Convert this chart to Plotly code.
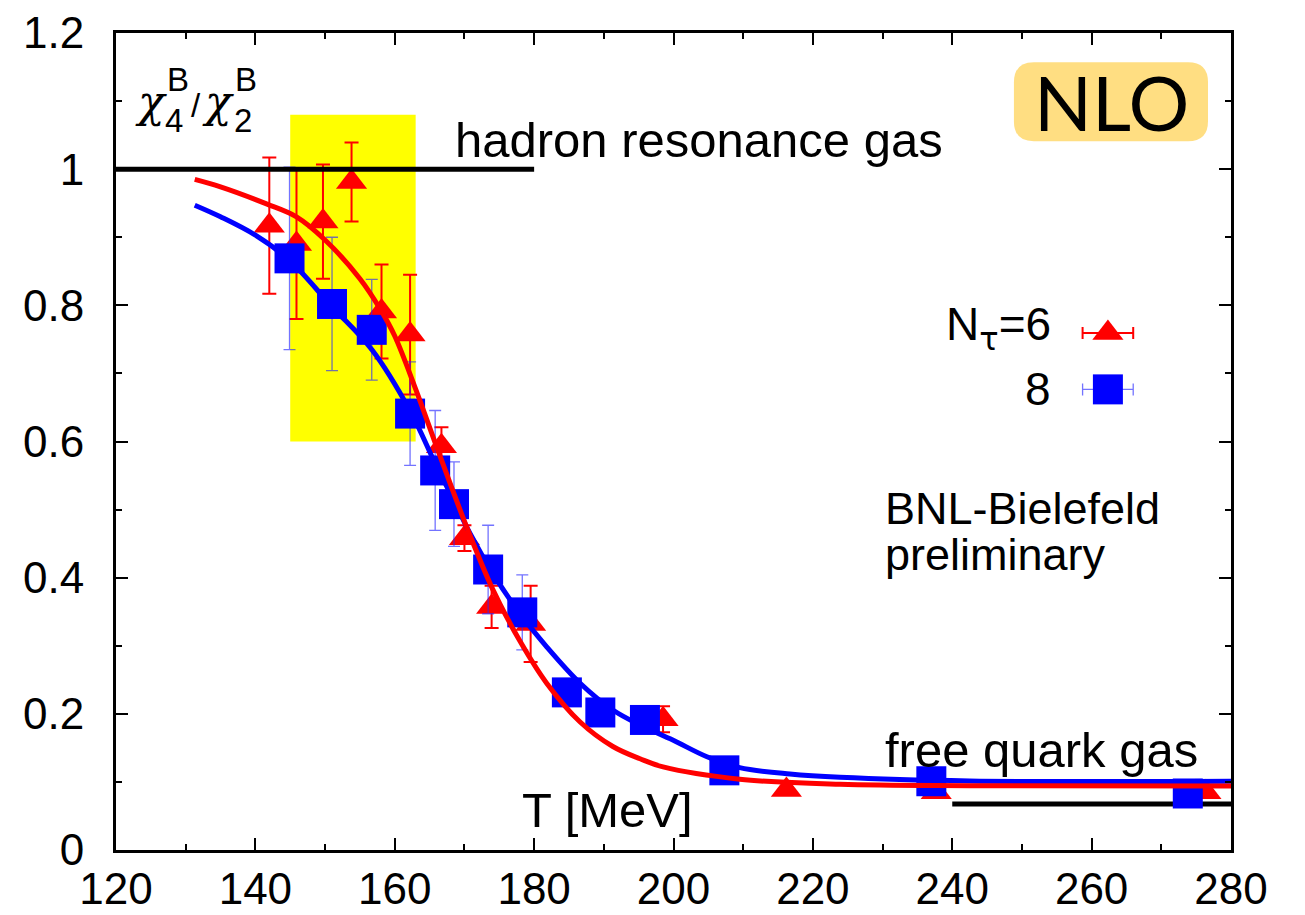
import plotly.graph_objects as go

# ---- lattice data: chi4^B / chi2^B versus temperature ----
# N_tau = 6 (red triangles)
T_NT6 = [142.0, 145.9, 149.7, 153.8, 158.1, 162.2, 166.7, 170.0, 173.9, 179.5, 198.5, 216.2, 237.7, 276.4]
R_NT6 = [0.917, 0.890, 0.923, 0.981, 0.791, 0.757, 0.593, 0.458, 0.357, 0.332, 0.192, 0.088, 0.085, 0.085]
E_NT6 = [0.100, 0.110, 0.084, 0.058, 0.069, 0.088, 0.028, 0.019, 0.031, 0.056, 0.019, 0.004, 0.004, 0.004]

# N_tau = 8 (blue squares)
T_NT8 = [144.9, 151.0, 156.7, 162.2, 165.8, 168.5, 173.4, 178.3, 184.7, 189.5, 195.9, 207.3, 237.0, 273.8]
R_NT8 = [0.869, 0.802, 0.764, 0.641, 0.5575, 0.508, 0.412, 0.349, 0.2315, 0.202, 0.191, 0.117, 0.101, 0.083]
E_NT8 = [0.134, 0.098, 0.074, 0.076, 0.088, 0.062, 0.065, 0.055, 0.0, 0.0, 0.0, 0.0, 0.0, 0.0]

# fitted curves
FIT6_T = [131.3, 135.0, 141.6, 145.9, 150.0, 155.0, 158.0, 160.0, 163.0, 166.2, 170.3, 174.1,
          177.9, 181.8, 186.6, 191.3, 195.2, 198.5, 209.5, 223.9, 242.5, 280.0]
FIT6_R = [0.985, 0.974, 0.949, 0.930, 0.896, 0.839, 0.793, 0.755, 0.677, 0.587, 0.475, 0.382,
          0.308, 0.245, 0.188, 0.152, 0.134, 0.122, 0.104, 0.0965, 0.0945, 0.094]

FIT8_T = [131.3, 135.0, 140.0, 144.9, 151.0, 156.7, 162.2, 165.8, 168.5, 170.8, 174.1, 177.9,
          181.8, 186.6, 191.3, 195.2, 199.9, 204.8, 209.5, 216.7, 223.9, 242.5, 280.0]
FIT8_R = [0.947, 0.930, 0.903, 0.866, 0.798, 0.735, 0.645, 0.568, 0.513, 0.465, 0.406, 0.348,
          0.2985, 0.245, 0.2056, 0.1836, 0.1615, 0.137, 0.121, 0.1116, 0.1067, 0.1013, 0.101]

# reference limits
HRG_VALUE = 1.0
HRG_T = [120, 180]
FQG_VALUE = 0.0675
FQG_T = [240, 280]

# transition band
BAND_T = [145, 163]
BAND_R = [0.6, 1.08]

X_TICKS = [120, 140, 160, 180, 200, 220, 240, 260, 280]
Y_TICKS = [0, 0.2, 0.4, 0.6, 0.8, 1.0, 1.2]

RED = "#ff0000"
BLUE = "#0000ff"
BLUE_ERR = "rgba(40,40,255,0.65)"
FONT = "Liberation Sans"
GREEK = "DejaVu Serif"

fig = go.Figure()

# N_tau = 6 points
fig.add_trace(go.Scatter(
    x=T_NT6, y=R_NT6, mode="markers",
    marker=dict(symbol="triangle-up", size=27, color=RED, line=dict(width=0)),
    error_y=dict(type="data", array=E_NT6, color=RED, thickness=2, width=7),
    showlegend=False,
))
# N_tau = 8 points
fig.add_trace(go.Scatter(
    x=T_NT8, y=R_NT8, mode="markers",
    marker=dict(symbol="square", size=30, color=BLUE, line=dict(width=0)),
    error_y=dict(type="data", array=E_NT8, color=BLUE_ERR, thickness=1.3, width=6),
    showlegend=False,
))
# fit curves
fig.add_trace(go.Scatter(
    x=FIT8_T, y=FIT8_R, mode="lines",
    line=dict(color=BLUE, width=5, shape="spline", smoothing=1.0),
    showlegend=False,
))
fig.add_trace(go.Scatter(
    x=FIT6_T, y=FIT6_R, mode="lines",
    line=dict(color=RED, width=5, shape="spline", smoothing=1.0),
    showlegend=False,
))

# legend keys on an overlay axis spanning the plot area (0..1)
KEY_X = 0.8896
KEY_HALF = 0.0227
KEY_Y6 = 0.6327
KEY_Y8 = 0.5638
fig.add_trace(go.Scatter(
    x=[KEY_X], y=[KEY_Y6], xaxis="x2", yaxis="y2", mode="markers",
    marker=dict(symbol="triangle-up", size=27, color=RED, line=dict(width=0)),
    error_x=dict(type="constant", value=KEY_HALF, color=RED, thickness=2, width=6),
    showlegend=False, hoverinfo="skip",
))
fig.add_trace(go.Scatter(
    x=[KEY_X], y=[KEY_Y8], xaxis="x2", yaxis="y2", mode="markers",
    marker=dict(symbol="square", size=30, color=BLUE, line=dict(width=0)),
    error_x=dict(type="constant", value=KEY_HALF, color=BLUE_ERR, thickness=1.3, width=6),
    showlegend=False, hoverinfo="skip",
))

# rounded box behind "NLO"
bx0, bx1, by0, by1 = 248.85, 276.7, 1.041, 1.157
rx, ry = 2.87, 0.0294
nlo_path = (
    f"M {bx0 + rx},{by0} L {bx1 - rx},{by0} Q {bx1},{by0} {bx1},{by0 + ry} "
    f"L {bx1},{by1 - ry} Q {bx1},{by1} {bx1 - rx},{by1} "
    f"L {bx0 + rx},{by1} Q {bx0},{by1} {bx0},{by1 - ry} "
    f"L {bx0},{by0 + ry} Q {bx0},{by0} {bx0 + rx},{by0} Z"
)

shapes = [
    dict(type="rect", xref="x", yref="y", x0=BAND_T[0], x1=BAND_T[1], y0=BAND_R[0], y1=BAND_R[1],
         fillcolor="#ffff00", line=dict(width=0), layer="below"),
    dict(type="line", xref="x", yref="y", x0=FQG_T[0], x1=FQG_T[1], y0=FQG_VALUE, y1=FQG_VALUE,
         line=dict(color="black", width=5), layer="below"),
    dict(type="line", xref="x", yref="y", x0=HRG_T[0], x1=HRG_T[1], y0=HRG_VALUE, y1=HRG_VALUE,
         line=dict(color="black", width=5), layer="above"),
    dict(type="path", xref="x", yref="y", path=nlo_path, fillcolor="#ffde82",
         line=dict(width=0), layer="below"),
]

TXT = 49
SUB = 33


def label(text, x, y, size=TXT, xanchor="left", family=FONT):
    return dict(text=text, x=x, y=y, xref="x", yref="y", xanchor=xanchor, yanchor="middle",
                showarrow=False, font=dict(family=family, size=size, color="black"))


annotations = [
    label("hadron resonance gas", 168.3, 1.043),
    label("free quark gas", 230.0, 0.147),
    label("T [MeV]", 190.5, 0.059, xanchor="center"),
    label("BNL-Bielefeld", 230.1, 0.501, size=45),
    label("preliminary", 230.1, 0.434, size=45),
    label("N<sub><span style=\"font-family:'DejaVu Sans'\">τ</span></sub>=6", 254.5, 0.767,
          size=46, xanchor="right"),
    label("8", 254.5, 0.677, size=46, xanchor="right"),
    label("NLO", 262.8, 1.099, size=76, xanchor="center", family="Lato"),
    # chi_4^B / chi_2^B, with stacked indices
    label("<i>χ</i>", 122.4, 1.100, size=44, family=GREEK),
    label("4", 126.7, 1.072, size=SUB),
    label("B", 127.0, 1.131, size=SUB),
    label("/", 130.5, 1.093, size=SUB),
    label("<i>χ</i>", 132.1, 1.100, size=44, family=GREEK),
    label("2", 136.6, 1.072, size=SUB),
    label("B", 136.8, 1.131, size=SUB),
]

axis_common = dict(
    showline=True, linecolor="black", linewidth=3, mirror="ticks",
    ticks="inside", ticklen=12, tickwidth=2, tickcolor="black",
    showgrid=False, zeroline=False, automargin=False,
    tickfont=dict(family=FONT, size=44, color="black"),
)

fig.update_layout(
    width=1305, height=915,
    margin=dict(l=116, r=74, t=33, b=65),
    paper_bgcolor="white", plot_bgcolor="white",
    xaxis=dict(range=[120, 280], tickvals=X_TICKS, ticklabelstandoff=-2,
               minor=dict(dtick=10, ticks="inside", ticklen=6, tickwidth=2, tickcolor="black"),
               **axis_common),
    yaxis=dict(range=[0, 1.2], tickvals=Y_TICKS, ticklabelstandoff=20,
               minor=dict(dtick=0.1, ticks="inside", ticklen=6, tickwidth=2, tickcolor="black"),
               **axis_common),
    xaxis2=dict(overlaying="x", range=[0, 1], visible=False),
    yaxis2=dict(overlaying="y", range=[0, 1], visible=False),
    shapes=shapes,
    annotations=annotations,
    showlegend=False,
)

fig.write_html("out.html")
